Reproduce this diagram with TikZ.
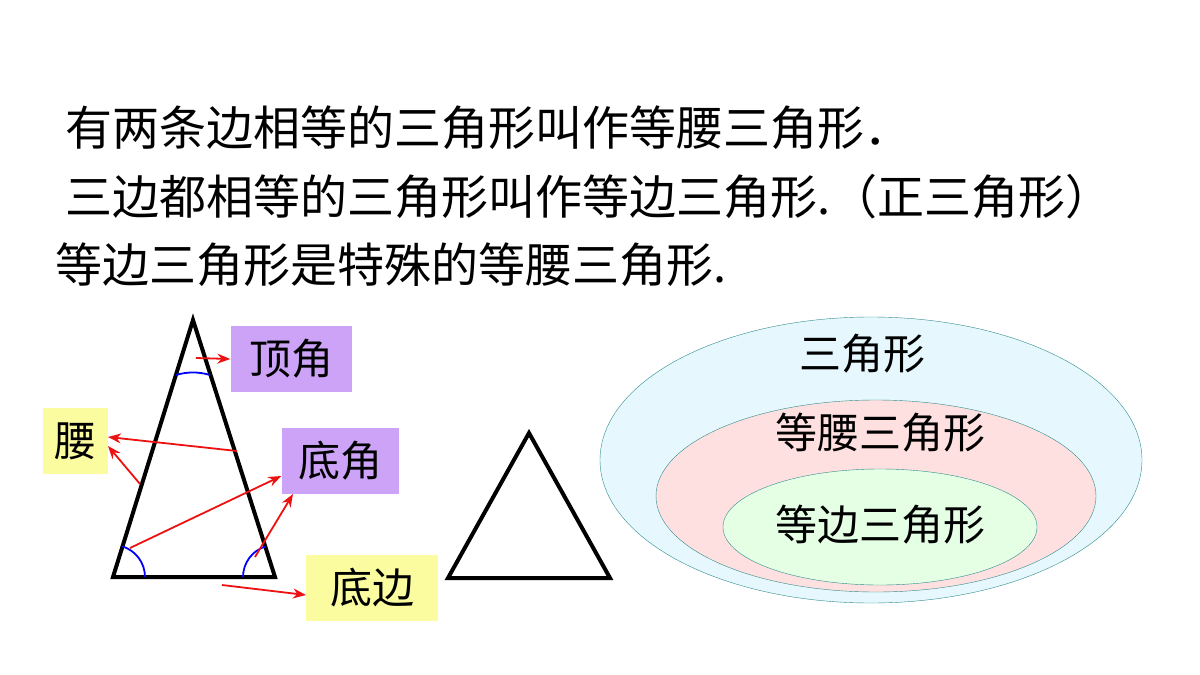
\documentclass[tikz,border=0pt]{standalone}
\usepackage{fontspec}
\setmainfont{Noto Sans CJK SC}
\usetikzlibrary{arrows.meta}
\definecolor{lblpurple}{HTML}{CCA3F7}
\definecolor{lblyellow}{HTML}{FBFBA0}
\definecolor{redarrow}{HTML}{EE1111}
\definecolor{rimteal}{HTML}{2E8C8C}
\tikzset{
  txt/.style={anchor=west, font=\fontsize{47}{52}\selectfont, inner sep=0},
  lbl/.style={font=\fontsize{42}{48}\selectfont, inner sep=0, minimum height=66, text height=36, text depth=6},
  tri/.style={line width=4, line join=miter},
  redar/.style={draw=redarrow, line width=1.8, -{Stealth[length=13,width=10]}},
  angarc/.style={draw=blue, line width=1.8}
}
\begin{document}
\begin{tikzpicture}[x=1pt, y=-1pt]
    \useasboundingbox (0,0) rectangle (1200,675);
    \node[txt] (l1) at (65,128) {有两条边相等的三角形叫作等腰三角形．};
    \node[txt] (l2) at (65,197) {三边都相等的三角形叫作等边三角形.（正三角形）};
    \node[txt] (l3) at (55,265) {等边三角形是特殊的等腰三角形.};

    % isosceles triangle
    \coordinate (a) at (193,320);
    \coordinate (b) at (113,577);
    \coordinate (c) at (275,577);
    \draw[tri] (a) -- (b) -- (c) -- cycle;
    \draw[angarc] (176,375) arc[start angle=-107, end angle=-73, radius=58];
    \draw[angarc] (145,577) arc[start angle=0, end angle=-73, radius=32];
    \draw[angarc] (243,577) arc[start angle=180, end angle=253, radius=32];

    % equilateral triangle
    \coordinate (p) at (529,433);
    \coordinate (q) at (448,578);
    \coordinate (r) at (610,578);
    \draw[tri] (p) -- (q) -- (r) -- cycle;

    % labels
    \node[lbl, fill=lblpurple, minimum width=121] (ding) at (291,359) {顶角};
    \node[lbl, fill=lblyellow, minimum width=65] (yao) at (75,441) {腰};
    \node[lbl, fill=lblpurple, minimum width=117] (di) at (340,461) {底角};
    \node[lbl, fill=lblyellow, minimum width=132] (dbian) at (372,588) {底边};

    \coordinate (s1) at (196,358);
    \coordinate (s2) at (237,451);
    \coordinate (s3) at (140,484);
    \coordinate (s4) at (130,548);
    \coordinate (s5) at (255,557);
    \coordinate (s6) at (222,585);
    \draw[redar] (s1) -- (ding.west);
    \draw[redar] (s2) -- (108,437);
    \draw[redar] (s3) -- (108,446);
    \draw[redar] (s4) -- (di.west |- 0,476);
    \draw[redar] (s5) -- (293,494);
    \draw[redar] (s6) -- (306,595);

    % ellipses
    \draw[rimteal, fill=cyan!10] (871,460) ellipse[x radius=271, y radius=143];
    \draw[rimteal, fill=red!12] (876,496) ellipse[x radius=220, y radius=96];
    \draw[rimteal, fill=green!10] (880,527) ellipse[x radius=157, y radius=58];
    \node[lbl] (sj) at (862,354) {三角形};
    \node[lbl] (dy) at (880,433) {等腰三角形};
    \node[lbl] (db) at (880,525) {等边三角形};
\end{tikzpicture}
\end{document}
